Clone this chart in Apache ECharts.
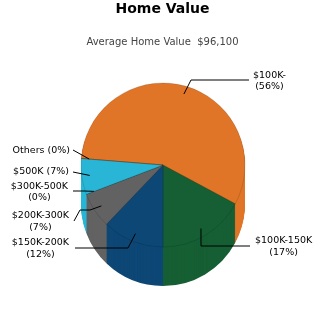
<!DOCTYPE html>
<html>
<head>
<meta charset="utf-8">
<script src="https://cdn.jsdelivr.net/npm/echarts@6/dist/echarts.min.js"></script>
<style>
  html, body { margin: 0; padding: 0; background: #fff; }
  #chart { width: 325px; height: 325px; }
</style>
</head>
<body>
<div id="chart"></div>
<script>
// Home value brackets and their share of homes (percent)
var brackets = ['$100K-', '$100K-150K', '$150K-200K', '$200K-300K', '$300K-500K', '$500K', 'Others'];
var shares = [56, 17, 12, 7, 0, 7, 0];
var sliceColors = ['#E07528', '#165F34', '#0D4776', '#626262', '#8C8C8C', '#29B6D6', '#B0B0B0'];
var chartTitle = 'Home Value';
var chartSubtitle = 'Average Home Value  $96,100';

var FONT = 'DejaVu Sans';
var CENTER = [163, 165];
var RADIUS = 82;
var DEPTH = 39;
var START = 175.4;
var LINE_R = 74;

// Leader line routes and label anchors for each bracket
var labelSpots = [
  { side: 'right', edge: 253, cy: 81, path: [[191, 80], [249, 80]] },
  { side: 'right', edge: 255, cy: 246.5, path: [[201, 246], [250, 246]] },
  { side: 'left', edge: 69, cy: 248.5, path: [[128, 248], [75, 248]] },
  { side: 'left', edge: 69, cy: 221.5, path: [[90, 210], [80, 210], [74, 221]] },
  { side: 'left', edge: 68, cy: 192, path: [[84, 191], [73, 191]] },
  { side: 'left', edge: 69, cy: 171.5, path: [[73, 172]] },
  { side: 'left', edge: 70, cy: 151, path: [[73, 150]] }
];

// Point inside the top face at the middle angle of a slice
function sliceAnchor(index) {
  var total = shares.reduce(function (a, b) { return a + b; }, 0);
  var before = 0;
  for (var i = 0; i < index; i++) before += shares[i];
  var deg = START - (before + shares[index] / 2) / total * 360;
  var rad = deg * Math.PI / 180;
  return [CENTER[0] + LINE_R * Math.cos(rad), CENTER[1] - LINE_R * Math.sin(rad)];
}

function sliceData() {
  return brackets.map(function (name, i) {
    return { name: name, value: shares[i], itemStyle: { color: sliceColors[i] } };
  });
}

var series = [];

// Extruded body: stacked copies of the pie, bottom first
for (var k = DEPTH; k >= 1; k--) {
  series.push({
    type: 'pie',
    silent: true,
    animation: false,
    z: 2,
    center: [CENTER[0], CENTER[1] + k],
    radius: RADIUS,
    startAngle: START,
    clockwise: true,
    label: { show: false },
    labelLine: { show: false },
    itemStyle: { borderWidth: 0 },
    data: sliceData()
  });
}

// Top face
series.push({
  type: 'pie',
  silent: true,
  animation: false,
  z: 3,
  center: CENTER,
  radius: RADIUS,
  startAngle: START,
  clockwise: true,
  label: { show: false },
  labelLine: { show: false },
  itemStyle: { borderWidth: 0.7, borderColor: 'rgba(0,0,0,0.18)' },
  data: sliceData()
});

// Labels with leader lines, drawn above the top face
series.push({
  type: 'pie',
  silent: true,
  animation: false,
  z: 6,
  center: CENTER,
  radius: LINE_R,
  startAngle: START,
  clockwise: true,
  avoidLabelOverlap: false,
  itemStyle: { color: 'rgba(0,0,0,0)' },
  label: {
    show: true,
    position: 'outside',
    fontFamily: FONT,
    fontSize: 9.5,
    lineHeight: 11.5,
    color: '#000',
    formatter: function (p) {
      return p.name.indexOf('-') >= 0
        ? p.name + '\n(' + p.value + '%)'
        : p.name + ' (' + p.value + '%)';
    }
  },
  labelLine: { show: true, lineStyle: { color: '#000', width: 1 } },
  labelLayout: function (p) {
    var s = labelSpots[p.dataIndex];
    var w = p.labelRect.width;
    var x = s.side === 'right' ? s.edge + w / 2 : s.edge - w / 2;
    return {
      x: x,
      y: s.cy,
      align: 'center',
      verticalAlign: 'middle',
      labelLinePoints: [sliceAnchor(p.dataIndex)].concat(s.path)
    };
  },
  data: brackets.map(function (name, i) {
    return { name: name, value: shares[i] };
  })
});

var chart = echarts.init(document.getElementById('chart'), null, { renderer: 'canvas' });
chart.setOption({
  backgroundColor: '#fff',
  animation: false,
  title: [
    {
      text: chartTitle,
      left: 'center',
      top: 2,
      padding: 0,
      textStyle: { fontFamily: FONT, fontSize: 14, fontWeight: 'bold', color: '#000' }
    },
    {
      text: chartSubtitle,
      left: 'center',
      top: 37,
      padding: 0,
      textStyle: { fontFamily: FONT, fontSize: 10, fontWeight: 'normal', color: '#444' }
    }
  ],
  series: series
});
</script>
</body>
</html>
